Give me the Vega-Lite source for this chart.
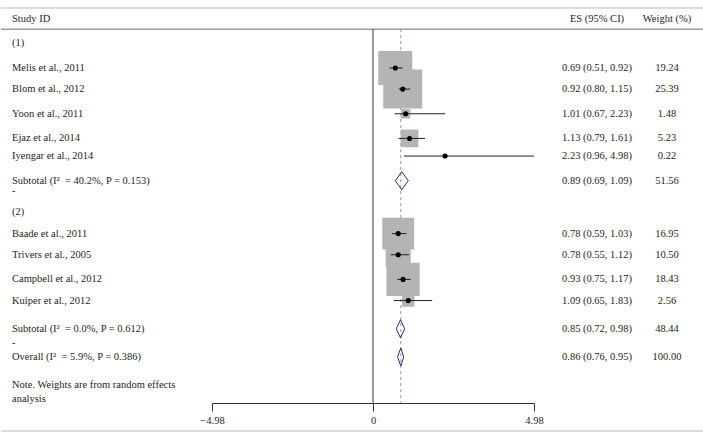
{
  "$schema": "https://vega.github.io/schema/vega-lite/v6.json",
  "background": "white",
  "padding": {"left": 0, "top": 7, "right": 0, "bottom": 0},
  "config": {
    "view": {"stroke": null},
    "font": "Liberation Serif",
    "text": {"font": "Liberation Serif", "fontSize": 10.5, "color": "#231f20", "baseline": "middle"},
    "axis": {"labelFont": "Liberation Serif"}
  },
  "datasets": {
    "rows": [
      {"id": "g1", "label": "(1)", "kind": "text"},
      {"id": "melis", "label": "Melis et al., 2011", "kind": "study", "es": 0.69, "lo": 0.51, "hi": 0.92, "weight": 19.24, "es_text": "0.69 (0.51, 0.92)"},
      {"id": "blom", "label": "Blom et al., 2012", "kind": "study", "es": 0.92, "lo": 0.80, "hi": 1.15, "weight": 25.39, "es_text": "0.92 (0.80, 1.15)"},
      {"id": "yoon", "label": "Yoon et al., 2011", "kind": "study", "es": 1.01, "lo": 0.67, "hi": 2.23, "weight": 1.48, "es_text": "1.01 (0.67, 2.23)"},
      {"id": "ejaz", "label": "Ejaz et al., 2014", "kind": "study", "es": 1.13, "lo": 0.79, "hi": 1.61, "weight": 5.23, "es_text": "1.13 (0.79, 1.61)"},
      {"id": "iyengar", "label": "Iyengar et al., 2014", "kind": "study", "es": 2.23, "lo": 0.96, "hi": 4.98, "weight": 0.22, "es_text": "2.23 (0.96, 4.98)"},
      {"id": "sub1", "label": "Subtotal (I\u00b2\u2002= 40.2%, P = 0.153)", "kind": "pooled", "es": 0.89, "lo": 0.69, "hi": 1.09, "weight": 51.56, "es_text": "0.89 (0.69, 1.09)"},
      {"id": "dash1", "label": "-", "kind": "text"},
      {"id": "g2", "label": "(2)", "kind": "text"},
      {"id": "baade", "label": "Baade et al., 2011", "kind": "study", "es": 0.78, "lo": 0.59, "hi": 1.03, "weight": 16.95, "es_text": "0.78 (0.59, 1.03)"},
      {"id": "trivers", "label": "Trivers et al., 2005", "kind": "study", "es": 0.78, "lo": 0.55, "hi": 1.12, "weight": 10.50, "es_text": "0.78 (0.55, 1.12)"},
      {"id": "campbell", "label": "Campbell et al., 2012", "kind": "study", "es": 0.93, "lo": 0.75, "hi": 1.17, "weight": 18.43, "es_text": "0.93 (0.75, 1.17)"},
      {"id": "kuiper", "label": "Kuiper et al., 2012", "kind": "study", "es": 1.09, "lo": 0.65, "hi": 1.83, "weight": 2.56, "es_text": "1.09 (0.65, 1.83)"},
      {"id": "sub2", "label": "Subtotal (I\u00b2\u2002= 0.0%, P = 0.612)", "kind": "pooled", "es": 0.85, "lo": 0.72, "hi": 0.98, "weight": 48.44, "es_text": "0.85 (0.72, 0.98)"},
      {"id": "dash2", "label": "-", "kind": "text"},
      {"id": "overall", "label": "Overall (I\u00b2\u2002= 5.9%, P = 0.386)", "kind": "pooled", "es": 0.86, "lo": 0.76, "hi": 0.95, "weight": 100.00, "es_text": "0.86 (0.76, 0.95)"},
      {"id": "note1", "label": "Note. Weights are from random effects", "kind": "text"},
      {"id": "note2", "label": "analysis", "kind": "text"}
    ]
  },
  "spacing": 0,
  "bounds": "flush",
  "hconcat": [
    {
      "width": 211,
      "height": 423,
      "encoding": {
        "y": {"field": "id", "type": "nominal", "axis": null, "scale": {"type": "point", "padding": 0, "domain": ["_top","s1","s2","_hdr","s4","s5","_hdrrule","s7","s8","s9","g1","s11","s12","s13","s14","s15","s16","melis","s18","s19","s20","s21","s22","blom","s24","s25","s26","s27","s28","s29","yoon","s31","s32","s33","s34","s35","s36","ejaz","s38","s39","s40","s41","iyengar","s43","s44","s45","s46","s47","s48","sub1","s50","s51","dash1","s53","s54","s55","s56","s57","g2","s59","s60","s61","s62","s63","baade","s65","s66","s67","s68","s69","trivers","s71","s72","s73","s74","s75","s76","campbell","s78","s79","s80","s81","s82","kuiper","s84","s85","s86","s87","s88","s89","s90","sub2","s92","s93","s94","dash2","s96","s97","s98","overall","s100","s101","s102","s103","s104","s105","s106","note1","s108","s109","s110","note2","_axis","s113","s114","s115","s116","s117","s118","s119","_bottom"]}}
      },
      "layer": [
        {"data": {"values": [{}]}, "mark": {"type": "rule", "color": "#b9b9b9", "strokeWidth": 1}, "encoding": {"y": {"datum": "_top"}}},
        {"data": {"values": [{}]}, "mark": {"type": "rule", "color": "#6d6d6d", "strokeWidth": 1}, "encoding": {"y": {"datum": "_hdrrule"}}},
        {"data": {"values": [{}]}, "mark": {"type": "rule", "color": "#b9b9b9", "strokeWidth": 1}, "encoding": {"y": {"datum": "_bottom"}}},
        {"data": {"values": [{}]}, "mark": {"type": "text", "align": "left"},
         "encoding": {"y": {"datum": "_hdr"}, "x": {"datum": "Study ID", "type": "nominal", "bandPosition": 0, "axis": null, "scale": {"type": "band", "paddingInner": 0, "paddingOuter": 0.0582}}, "text": {"value": "Study ID"}}},
        {"data": {"name": "rows"}, "mark": {"type": "text", "align": "left"},
         "encoding": {"x": {"datum": "Study ID", "type": "nominal", "bandPosition": 0, "axis": null}, "text": {"field": "label"}}}
      ]
    },
    {
      "width": 322,
      "height": 423,
      "encoding": {
        "y": {"field": "id", "type": "nominal", "axis": null, "scale": {"type": "point", "padding": 0, "domain": ["_top","s1","s2","_hdr","s4","s5","_hdrrule","s7","s8","s9","g1","s11","s12","s13","s14","s15","s16","melis","s18","s19","s20","s21","s22","blom","s24","s25","s26","s27","s28","s29","yoon","s31","s32","s33","s34","s35","s36","ejaz","s38","s39","s40","s41","iyengar","s43","s44","s45","s46","s47","s48","sub1","s50","s51","dash1","s53","s54","s55","s56","s57","g2","s59","s60","s61","s62","s63","baade","s65","s66","s67","s68","s69","trivers","s71","s72","s73","s74","s75","s76","campbell","s78","s79","s80","s81","s82","kuiper","s84","s85","s86","s87","s88","s89","s90","sub2","s92","s93","s94","dash2","s96","s97","s98","overall","s100","s101","s102","s103","s104","s105","s106","note1","s108","s109","s110","note2","_axis","s113","s114","s115","s116","s117","s118","s119","_bottom"]}}
      },
      "layer": [
        {"data": {"values": [{}]}, "mark": {"type": "rule", "color": "#b9b9b9", "strokeWidth": 1}, "encoding": {"y": {"datum": "_top"}}},
        {"data": {"values": [{}]}, "mark": {"type": "rule", "color": "#6d6d6d", "strokeWidth": 1}, "encoding": {"y": {"datum": "_hdrrule"}}},
        {"data": {"values": [{}]}, "mark": {"type": "rule", "color": "#b9b9b9", "strokeWidth": 1}, "encoding": {"y": {"datum": "_bottom"}}},
        {"data": {"values": [{}]}, "mark": {"type": "rule", "color": "#333333", "strokeWidth": 1},
         "encoding": {"x": {"datum": 0, "type": "quantitative"}, "y": {"datum": "_hdrrule"}, "y2": {"datum": "_axis"}}},
        {"data": {"name": "rows"}, "transform": [{"filter": "datum.id === 'overall'"}],
         "mark": {"type": "rule", "color": "#b5838f", "strokeWidth": 1, "strokeDash": [3, 3]},
         "encoding": {"x": {"field": "es", "type": "quantitative"}, "y": {"datum": "_hdrrule"}, "y2": {"datum": "_axis"}}},
        {"data": {"name": "rows"}, "transform": [{"filter": "datum.kind === 'study'"}],
         "mark": {"type": "point", "shape": "square", "filled": true, "color": "#b4b4b4", "opacity": 1, "strokeWidth": 0},
         "encoding": {
           "x": {"field": "es", "type": "quantitative",
                 "scale": {"domain": [-4.98, 4.98], "nice": false, "zero": false},
                 "axis": {"values": [-4.98, 0, 4.98], "format": ".2~f", "title": null, "offset": -28, "grid": false, "tickSize": 8, "tickColor": "#333333", "domainColor": "#333333", "labelFontSize": 10.5, "labelColor": "#231f20", "labelPadding": 4, "labelFlush": false, "labelOverlap": false}},
           "size": {"field": "weight", "type": "quantitative", "scale": {"domain": [0, 100], "range": [0, 6000]}, "legend": null}
         }},
        {"data": {"name": "rows"}, "transform": [{"filter": "datum.kind === 'study'"}],
         "mark": {"type": "rule", "color": "#222222", "strokeWidth": 1},
         "encoding": {"x": {"field": "lo", "type": "quantitative"}, "x2": {"field": "hi"}}},
        {"data": {"name": "rows"}, "transform": [{"filter": "datum.kind === 'study'"}],
         "mark": {"type": "point", "shape": "circle", "filled": true, "color": "#000000", "opacity": 1, "size": 26},
         "encoding": {"x": {"field": "es", "type": "quantitative"}}},
        {"data": {"name": "rows"}, "transform": [{"filter": "datum.kind === 'pooled'"}],
         "mark": {"type": "rule", "color": "#2b2a72", "strokeWidth": 1, "y2Offset": -9},
         "encoding": {"x": {"field": "lo", "type": "quantitative"}, "x2": {"field": "es"}, "y2": {"field": "id"}}},
        {"data": {"name": "rows"}, "transform": [{"filter": "datum.kind === 'pooled'"}],
         "mark": {"type": "rule", "color": "#2b2a72", "strokeWidth": 1, "y2Offset": 9},
         "encoding": {"x": {"field": "lo", "type": "quantitative"}, "x2": {"field": "es"}, "y2": {"field": "id"}}},
        {"data": {"name": "rows"}, "transform": [{"filter": "datum.kind === 'pooled'"}],
         "mark": {"type": "rule", "color": "#2b2a72", "strokeWidth": 1, "yOffset": -9},
         "encoding": {"x": {"field": "es", "type": "quantitative"}, "x2": {"field": "hi"}, "y2": {"field": "id"}}},
        {"data": {"name": "rows"}, "transform": [{"filter": "datum.kind === 'pooled'"}],
         "mark": {"type": "rule", "color": "#2b2a72", "strokeWidth": 1, "yOffset": 9},
         "encoding": {"x": {"field": "es", "type": "quantitative"}, "x2": {"field": "hi"}, "y2": {"field": "id"}}}
      ]
    },
    {
      "width": 170,
      "height": 423,
      "encoding": {
        "y": {"field": "id", "type": "nominal", "axis": null, "scale": {"type": "point", "padding": 0, "domain": ["_top","s1","s2","_hdr","s4","s5","_hdrrule","s7","s8","s9","g1","s11","s12","s13","s14","s15","s16","melis","s18","s19","s20","s21","s22","blom","s24","s25","s26","s27","s28","s29","yoon","s31","s32","s33","s34","s35","s36","ejaz","s38","s39","s40","s41","iyengar","s43","s44","s45","s46","s47","s48","sub1","s50","s51","dash1","s53","s54","s55","s56","s57","g2","s59","s60","s61","s62","s63","baade","s65","s66","s67","s68","s69","trivers","s71","s72","s73","s74","s75","s76","campbell","s78","s79","s80","s81","s82","kuiper","s84","s85","s86","s87","s88","s89","s90","sub2","s92","s93","s94","dash2","s96","s97","s98","overall","s100","s101","s102","s103","s104","s105","s106","note1","s108","s109","s110","note2","_axis","s113","s114","s115","s116","s117","s118","s119","_bottom"]}}
      },
      "layer": [
        {"data": {"values": [{}]}, "mark": {"type": "rule", "color": "#b9b9b9", "strokeWidth": 1}, "encoding": {"y": {"datum": "_top"}}},
        {"data": {"values": [{}]}, "mark": {"type": "rule", "color": "#6d6d6d", "strokeWidth": 1}, "encoding": {"y": {"datum": "_hdrrule"}}},
        {"data": {"values": [{}]}, "mark": {"type": "rule", "color": "#b9b9b9", "strokeWidth": 1}, "encoding": {"y": {"datum": "_bottom"}}},
        {"data": {"values": [{"col": "ES (95% CI)"}, {"col": "Weight (%)"}]}, "mark": {"type": "text"},
         "encoding": {"x": {"field": "col", "type": "nominal", "axis": null, "scale": {"type": "band", "domain": ["ES (95% CI)", "Weight (%)"], "paddingInner": 0, "paddingOuter": 0.2143, "align": 0.9333}},
                      "y": {"datum": "_hdr"}, "text": {"field": "col"}}},
        {"data": {"name": "rows"}, "transform": [{"filter": "isValid(datum.es)"}], "mark": {"type": "text"},
         "encoding": {"x": {"datum": "ES (95% CI)", "type": "nominal", "axis": null}, "text": {"field": "es_text"}}},
        {"data": {"name": "rows"}, "transform": [{"filter": "isValid(datum.weight)"}], "mark": {"type": "text"},
         "encoding": {"x": {"datum": "Weight (%)", "type": "nominal", "axis": null}, "text": {"field": "weight", "type": "quantitative", "format": ".2f"}}}
      ]
    }
  ]
}
